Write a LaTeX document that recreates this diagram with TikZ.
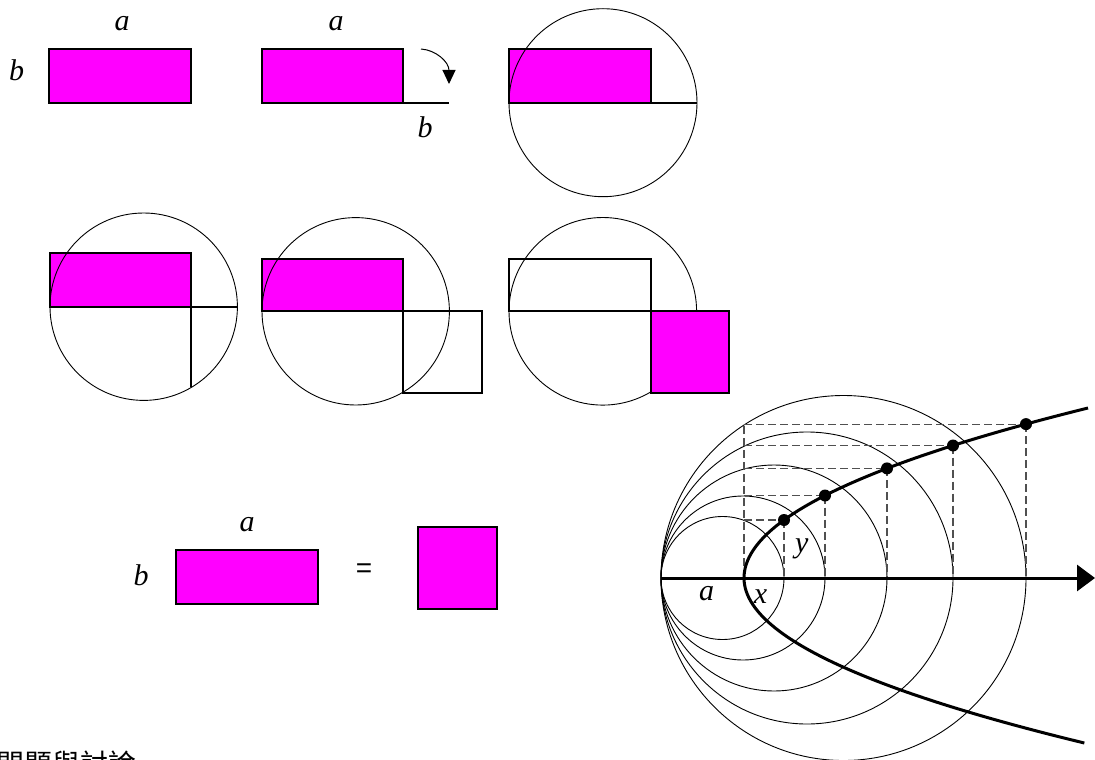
\documentclass[tikz,border=0pt]{standalone}
\usepackage{fontspec}
\setmainfont{Liberation Serif}
\newfontfamily\cjkfont{Noto Sans CJK TC}
\newfontfamily\arialfont{Liberation Sans}
\usetikzlibrary{arrows.meta}
\definecolor{mag}{RGB}{255,0,255}
\definecolor{dashgray}{RGB}{80,80,80}
\begin{document}
\begin{tikzpicture}[x=1pt,y=-1pt,
  box/.style={draw=black,line width=1.8pt,fill=mag},
  openbox/.style={draw=black,line width=1.8pt},
  circ/.style={draw=black,line width=0.9pt},
  edge/.style={draw=black,line width=1.8pt},
  lbl/.style={font=\fontsize{30}{32}\selectfont\itshape,inner sep=0pt,anchor=base},
  dashln/.style={draw=dashgray,line width=1.1pt,dash pattern=on 8pt off 4pt},
  curve/.style={draw=black,line width=3pt},
  dot/.style={fill=black}]
\useasboundingbox (0,0) rectangle (1095,760);
\clip (0,0) rectangle (1095,760);

% ---------- top row ----------
\draw[box] (49.3,49.3) rectangle (191,102.7);
\node[lbl] (ta1) at (122,30.5) {a};
\node[lbl] (tb1) at (16.7,81) {b};

\draw[box] (262,49.3) rectangle (403,102.7);
\coordinate (c2a) at (403,102.7);
\coordinate (c2b) at (449,102.7);
\draw[edge] (c2a) -- (c2b);
\node[lbl] (ta2) at (336,30.5) {a};
\node[lbl] (tb2) at (425,137) {b};
\coordinate (arS) at (421,49);
\coordinate (arE) at (449,84);
\draw[line width=1pt,-{Triangle[length=14pt,width=13pt]}] (arS) .. controls (436,50) and (449,62) .. (arE);

\draw[box] (509,49.3) rectangle (651,102.7);
\draw[circ] (603,102.7) circle[radius=94pt];
\coordinate (c3a) at (651,102.7);
\coordinate (c3b) at (697,102.7);
\draw[edge] (c3a) -- (c3b);

% ---------- second row ----------
% panel A
\draw[box] (50.3,252.7) rectangle (191.3,306.7);
\draw[circ] (143.7,306.7) circle[radius=93.7pt];
\coordinate (pa1) at (191.3,306.7);
\coordinate (pa2) at (237.4,306.7);
\coordinate (pa3) at (191.3,387);
\draw[edge] (pa1) -- (pa2);
\draw[edge] (pa1) -- (pa3);

% panel B
\draw[box] (262,258.7) rectangle (403.3,311.3);
\draw[circ] (355.7,311.3) circle[radius=93.7pt];
\draw[openbox] (403.3,311.3) rectangle (481.7,392.7);

% panel C
\draw[openbox] (509,258.7) rectangle (651.3,311.3);
\draw[circ] (602.8,311.3) circle[radius=93.8pt];
\draw[box] (651.3,311.3) rectangle (728.7,392.7);

% ---------- bottom left ----------
\draw[box] (176,550) rectangle (318.3,604);
\node[lbl] (ba) at (247,531.5) {a};
\node[lbl] (bb) at (141,585) {b};
\node[font=\arialfont\fontsize{28}{30}\selectfont,inner sep=0pt] (eq) at (364,570.5) {=};
\draw[box] (418.3,527.3) rectangle (496.7,609);

\node[font=\cjkfont\fontsize{28}{30}\selectfont,inner sep=0pt,anchor=base west] (qd) at (-4,774) {問題與討論};

% ---------- parabola construction ----------
\foreach \c/\r in {722.5/61.5, 743/82, 774/113, 807/146, 843.5/182.5}
  \draw[circ] (\c,578) circle[radius=\r pt];

\coordinate (O) at (661,578);
\coordinate (V) at (744,578);
\coordinate (P1) at (784,520);
\coordinate (P2) at (825,495.5);
\coordinate (P3) at (887,468.4);
\coordinate (P4) at (953,445.5);
\coordinate (P5) at (1026,424.1);
\coordinate (Vt) at (744,424.1);

\draw[dashln] (V) -- (Vt);
\foreach \p/\x/\y in {P1/784/520, P2/825/495.5, P3/887/468.4, P4/953/445.5, P5/1026/424.1}{
  \draw[dashln] (744,\y) -- (\p);
  \draw[dashln] (\p) -- (\x,578);
}

\draw[curve] plot[domain=16.5:0,samples=50,smooth] ({744+\x*\x/0.80},{578+10*\x})
  -- plot[domain=0:17,samples=50,smooth] ({744+\x*\x/0.84},{578-10*\x});

\coordinate (axE) at (1095,578);
\draw[line width=3pt,-{Triangle[length=18pt,width=26pt]}] (O) -- (axE);

\foreach \p in {P1,P2,P3,P4,P5}
  \fill[dot] (\p) circle[radius=6pt];

\node[lbl] (la) at (706.5,600) {a};
\node[lbl] (lx) at (760.5,603) {x};
\node[lbl] (ly) at (801.7,552) {y};
\end{tikzpicture}
\end{document}
